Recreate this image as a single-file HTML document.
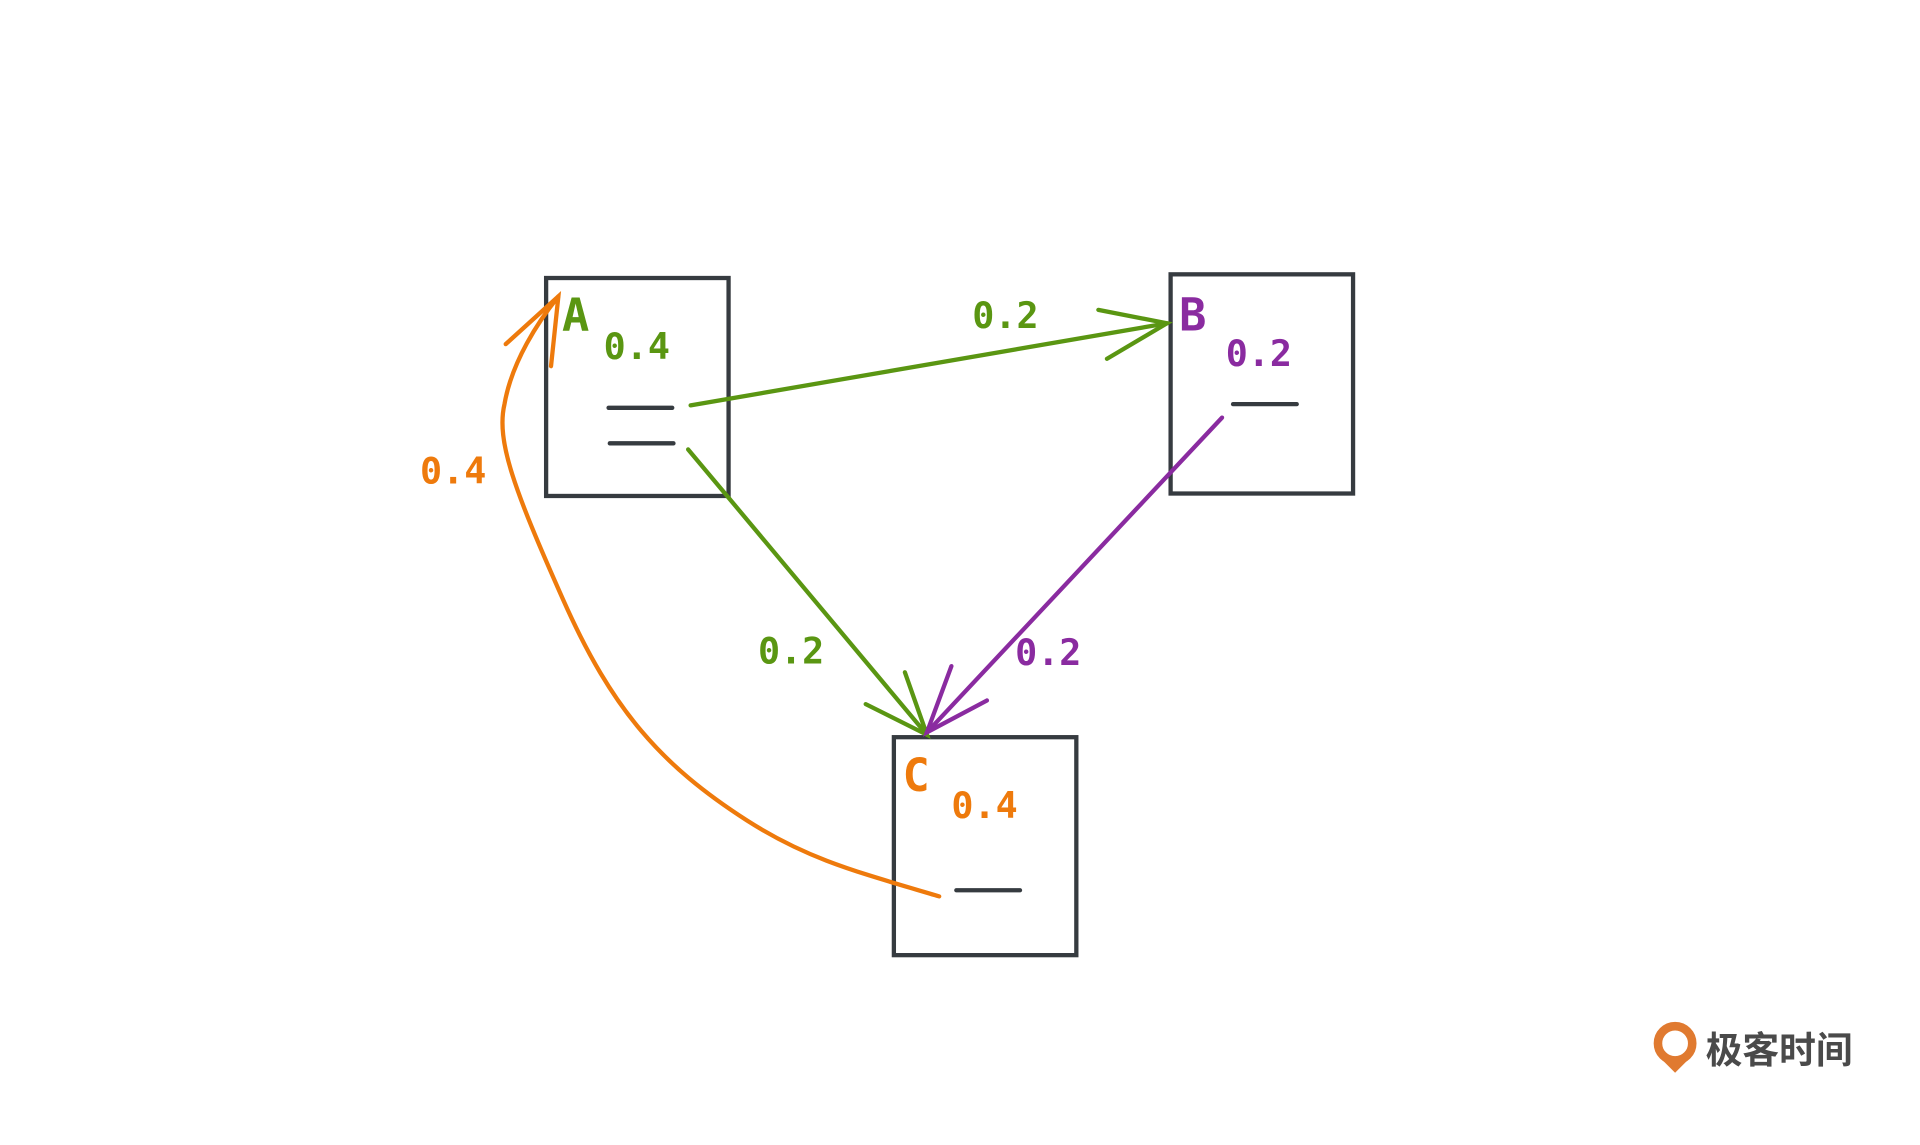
<!DOCTYPE html>
<html><head><meta charset="utf-8"><style>
html,body{margin:0;padding:0;background:#fff;}
svg{display:block;}
.m{font-family:"DejaVu Sans Mono","Liberation Mono",monospace;font-weight:bold;}
</style></head><body>
<svg width="1920" height="1145" viewBox="0 0 1568 935" xmlns="http://www.w3.org/2000/svg">
<g fill="none" stroke="#363b40" stroke-width="3.5" stroke-linecap="round">
<rect x="446" y="227" width="149" height="178"/>
<rect x="956" y="224" width="149" height="179"/>
<rect x="730" y="602" width="149" height="178"/>
<line x1="497" y1="333" x2="549" y2="333"/>
<line x1="498" y1="362" x2="550" y2="362"/>
<line x1="1007" y1="330" x2="1059" y2="330"/>
<line x1="781" y1="727" x2="833" y2="727"/>
</g>
<g fill="none" stroke="#5a9612" stroke-width="3.5" stroke-linecap="round">
<line x1="564" y1="331" x2="953" y2="264"/>
<path d="M897 253 L953 264 L904 293"/>
<line x1="562" y1="367" x2="757" y2="600"/>
<path d="M707 575 L757 600 L739 549"/>
</g>
<g fill="none" stroke="#8a2ba0" stroke-width="3.5" stroke-linecap="round">
<line x1="998" y1="341" x2="757" y2="598"/>
<path d="M777 544 L757 598 L806 572"/>
</g>
<g fill="none" stroke="#ee7a0c" stroke-width="3.5" stroke-linecap="round">
<path d="M767 732 C700 712 660 702 610 670 C540 625 500 580 460 490 C420 400 405 360 412 330 C418 295 440 262 456 242"/>
<path d="M413 281 L456 242 L450 299"/>
</g>
<text class="m" x="459" y="270" font-size="37" fill="#5a9612">A</text>
<text class="m" x="963" y="270" font-size="37" fill="#8a2ba0">B</text>
<text class="m" x="737" y="646" font-size="37" fill="#ee7a0c">C</text>
<text class="m" x="493" y="293" font-size="30" fill="#5a9612">0.4</text>
<text class="m" x="1001" y="299" font-size="30" fill="#8a2ba0">0.2</text>
<text class="m" x="777" y="668" font-size="30" fill="#ee7a0c">0.4</text>
<text class="m" x="794" y="268" font-size="30" fill="#5a9612">0.2</text>
<text class="m" x="619" y="542" font-size="30" fill="#5a9612">0.2</text>
<text class="m" x="829" y="543" font-size="30" fill="#8a2ba0">0.2</text>
<text class="m" x="343" y="395" font-size="30" fill="#ee7a0c">0.4</text>
<g>
<circle cx="1368" cy="852" r="14" fill="none" stroke="#e07a30" stroke-width="7"/>
<path d="M1358 866 L1368 876 L1378 866 Z" fill="#e07a30"/>
<text x="1393" y="868" font-family="'Liberation Sans','Noto Sans CJK SC',sans-serif" font-size="30" font-weight="bold" fill="#4a4a4a">极客时间</text>
</g>
</svg>
</body></html>
